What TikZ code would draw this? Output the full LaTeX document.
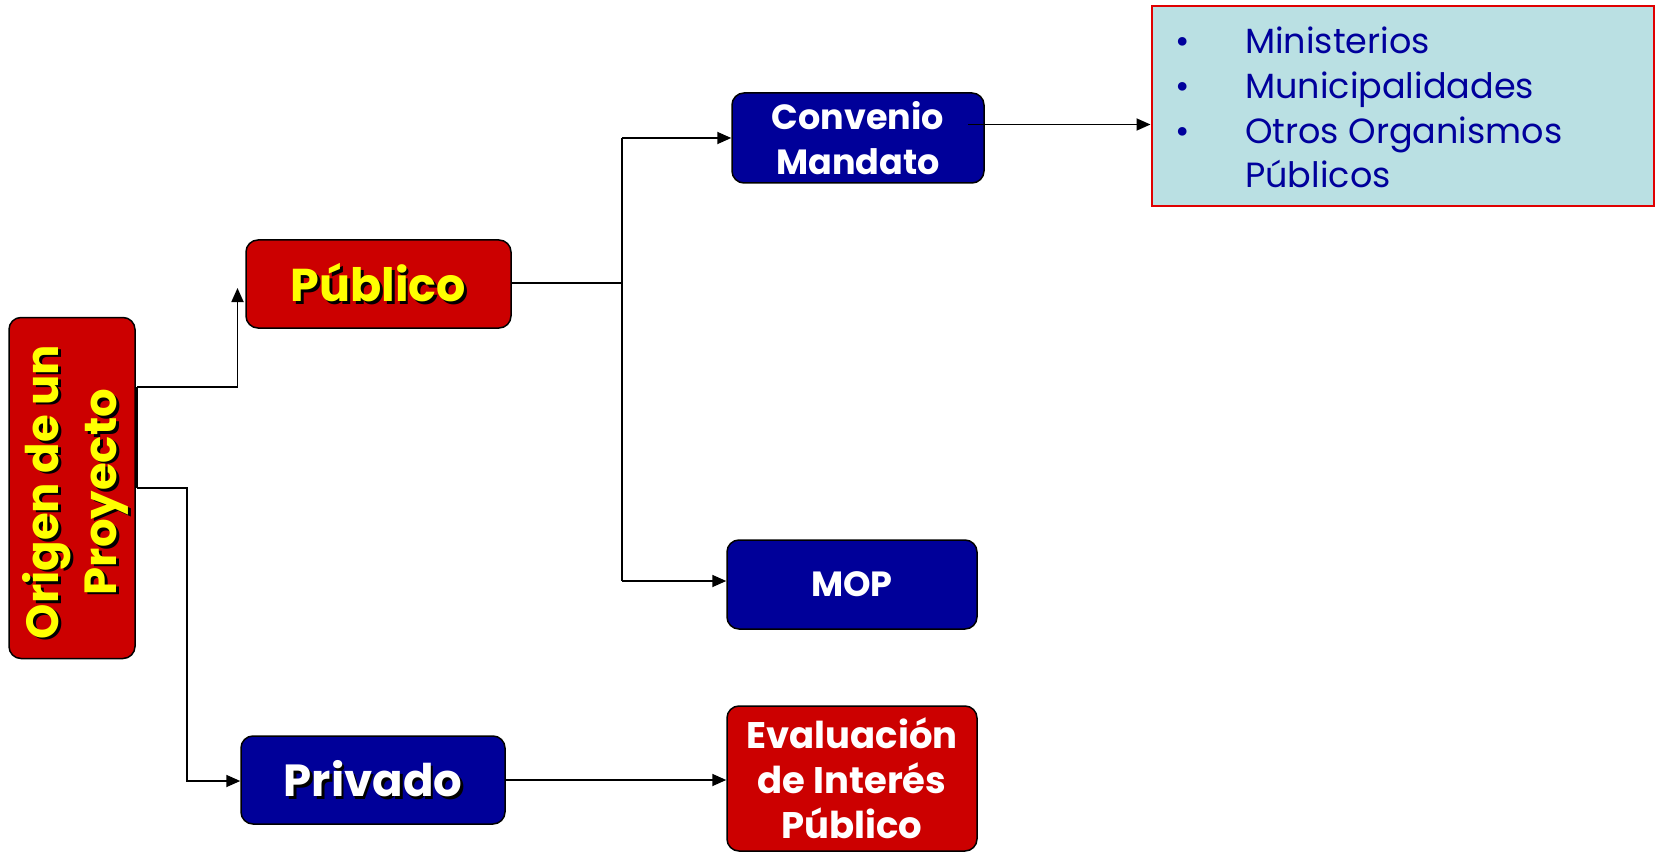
\documentclass[tikz,border=0pt]{standalone}
\usepackage{fontspec}
\setmainfont{Poppins}
\usetikzlibrary{arrows.meta}
\definecolor{boxred}{HTML}{CC0000}
\definecolor{boxblue}{HTML}{000099}
\definecolor{listfill}{HTML}{BAE0E3}
\definecolor{listred}{HTML}{E00000}
\definecolor{listtext}{HTML}{00009C}
\definecolor{txtyellow}{HTML}{FFFF00}
\newcommand\shd[3]{\leavevmode\rlap{\kern#2\raisebox{#3}{\color{black}#1}}#1}
\begin{document}
\begin{tikzpicture}[x=1pt,y=-1pt,
  boxbase/.style={draw=black,line width=1.5pt,rounded corners=12pt,inner sep=0pt,align=center},
  redbox/.style={boxbase,fill=boxred},
  bluebox/.style={boxbase,fill=boxblue},
  conn/.style={line width=1.8pt,draw=black},
  arr/.style={conn,-{Triangle[length=14pt,width=12pt]}},
  listline/.style={anchor=base west,inner sep=0pt,text=listtext,font=\fontsize{35}{45}\selectfont},
  listbullet/.style={anchor=base,inner sep=0pt,text=listtext,font=\fontsize{35}{45}\selectfont}]
\useasboundingbox (0,0) rectangle (1655,853);
% boxes
\node[redbox,minimum width=126pt,minimum height=341pt] (orig) at (72,488) {};
\node[rotate=90,text=txtyellow,align=center,inner sep=0pt,
      font=\bfseries\fontsize{45}{58}\selectfont] (origtxt) at (77,492)
      {\shd{Origen de un}{-2.5pt}{-2.5pt}\\\shd{Proyecto}{-2.5pt}{-2.5pt}};
\node[redbox,minimum width=265pt,minimum height=88pt,text=txtyellow,
      font=\bfseries\fontsize{46}{58}\selectfont] (pub) at (378.5,284) {\shd{Público}{2.5pt}{-2.5pt}};
\node[bluebox,minimum width=252pt,minimum height=90pt,text=white,
      font=\bfseries\fontsize{35}{45}\selectfont] (conv) at (858,138) {Convenio\\Mandato};
\node[bluebox,minimum width=250pt,minimum height=89pt,text=white,
      font=\bfseries\fontsize{35}{45}\selectfont] (mop) at (852,584.5) {MOP};
\node[bluebox,minimum width=264pt,minimum height=88pt,text=white,
      font=\bfseries\fontsize{45}{58}\selectfont] (priv) at (373,780) {\shd{Privado}{2.5pt}{-2.5pt}};
\node[redbox,minimum width=250pt,minimum height=145pt,text=white,
      font=\bfseries\fontsize{37}{45}\selectfont] (eval) at (852,778.5) {Evaluación\\de Interés\\Público};
\node[draw=listred,line width=2pt,fill=listfill,minimum width=502pt,minimum height=200pt,inner sep=0pt] (list) at (1402.5,106) {};
% list text
\node[listbullet] (b1) at (1183,54) {•};
\node[listbullet] (b2) at (1183,99) {•};
\node[listbullet] (b3) at (1183,144) {•};
\node[listline] (l1) at (1245,54) {Ministerios};
\node[listline] (l2) at (1245,99) {Municipalidades};
\node[listline] (l3) at (1245,144) {Otros Organismos};
\node[listline] (l4) at (1245,188) {Públicos};
% connectors
\coordinate (o1) at (137,387);
\coordinate (o2) at (137,488);
\coordinate (pubtip) at (237.5,288);
\coordinate (k2) at (187,781);
\draw[conn] (o1) -- (o2);
\draw[arr] (o1) -| (pubtip);
\draw[arr] (o2) -| (k2) -- (k2 -| priv.west);
\coordinate (v0) at (622,283);
\coordinate (v1) at (622,138);
\coordinate (v2) at (622,581);
\draw[conn] (pub.east |- v0) -- (v0);
\draw[conn] (v1) -- (v2);
\draw[arr] (v1) -- (v1 -| conv.west);
\draw[arr] (v2) -- (v2 -| mop.west);
\coordinate (cout) at (968,124.5);
\draw[arr] (cout) -- (cout -| list.west);
\draw[arr] (priv.east) -- (priv.east -| eval.west);
\end{tikzpicture}
\end{document}
